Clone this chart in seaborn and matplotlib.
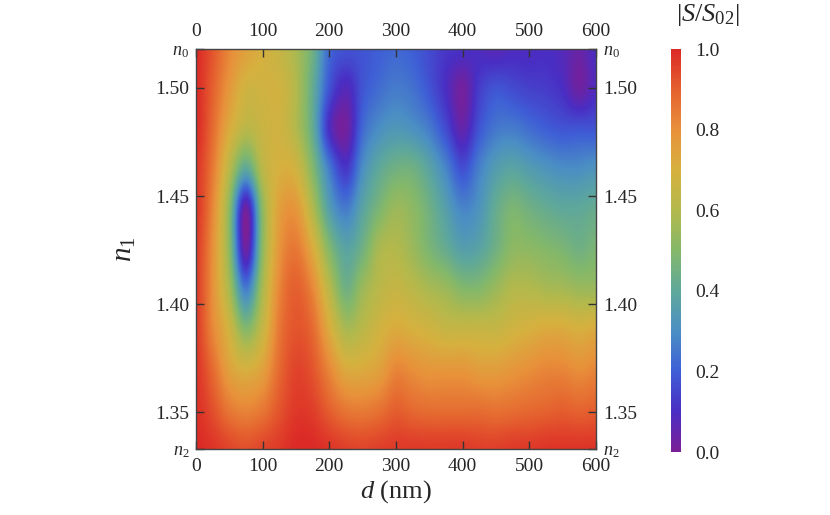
import numpy as np
import matplotlib
matplotlib.use("Agg")
import matplotlib.pyplot as plt
import seaborn as sns

# film thickness d (nm) and film index n1 sample grid
d_nm = [0, 25, 50, 75, 100, 125, 150, 175, 200, 225, 250, 275, 300,
        325, 350, 375, 400, 425, 450, 475, 500, 525, 550, 575, 600]
n1 = [1.333, 1.3515, 1.370, 1.3885, 1.407, 1.4255, 1.444,
      1.4625, 1.481, 1.4995, 1.518]

# |S/S02|, one list per n1 row (bottom -> top)
row_1333 = [1.00, 0.98, 0.95, 0.93, 0.95, 0.97, 1.00, 1.00, 0.98, 0.96, 0.95, 0.96, 0.97,
            0.97, 0.97, 0.97, 0.97, 0.96, 0.96, 0.97, 0.97, 0.98, 0.98, 0.98, 0.98]
row_1352 = [0.99, 0.93, 0.85, 0.82, 0.85, 0.92, 0.97, 0.96, 0.90, 0.85, 0.84, 0.86, 0.90,
            0.88, 0.87, 0.87, 0.87, 0.87, 0.86, 0.87, 0.88, 0.89, 0.90, 0.89, 0.90]
row_1370 = [0.98, 0.88, 0.75, 0.70, 0.75, 0.88, 0.95, 0.92, 0.82, 0.72, 0.72, 0.75, 0.82,
            0.80, 0.78, 0.78, 0.78, 0.76, 0.76, 0.78, 0.80, 0.82, 0.82, 0.80, 0.82]
row_1389 = [0.97, 0.82, 0.68, 0.50, 0.65, 0.85, 0.92, 0.88, 0.72, 0.58, 0.62, 0.68, 0.72,
            0.70, 0.68, 0.65, 0.65, 0.65, 0.65, 0.68, 0.70, 0.72, 0.72, 0.70, 0.72]
row_1407 = [0.97, 0.80, 0.58, 0.26, 0.58, 0.82, 0.90, 0.82, 0.62, 0.45, 0.55, 0.62, 0.65,
            0.62, 0.58, 0.55, 0.50, 0.50, 0.55, 0.60, 0.60, 0.58, 0.57, 0.55, 0.55]
row_1426 = [0.97, 0.80, 0.52, 0.03, 0.52, 0.78, 0.85, 0.72, 0.50, 0.38, 0.45, 0.58, 0.60,
            0.55, 0.48, 0.42, 0.36, 0.38, 0.45, 0.52, 0.52, 0.50, 0.48, 0.45, 0.48]
row_1444 = [0.98, 0.82, 0.52, 0.03, 0.52, 0.75, 0.78, 0.60, 0.36, 0.26, 0.38, 0.48, 0.55,
            0.52, 0.45, 0.36, 0.28, 0.32, 0.42, 0.48, 0.45, 0.42, 0.40, 0.40, 0.42]
row_1463 = [0.98, 0.85, 0.62, 0.40, 0.62, 0.70, 0.68, 0.50, 0.26, 0.12, 0.30, 0.40, 0.45,
            0.45, 0.38, 0.28, 0.17, 0.27, 0.35, 0.38, 0.35, 0.32, 0.30, 0.30, 0.32]
row_1481 = [1.00, 0.88, 0.72, 0.62, 0.66, 0.68, 0.60, 0.42, 0.10, 0.02, 0.22, 0.30, 0.33,
            0.31, 0.26, 0.16, 0.05, 0.18, 0.25, 0.26, 0.23, 0.20, 0.18, 0.18, 0.18]
row_1500 = [1.00, 0.90, 0.78, 0.68, 0.68, 0.68, 0.60, 0.42, 0.18, 0.08, 0.18, 0.23, 0.26,
            0.24, 0.18, 0.10, 0.02, 0.13, 0.18, 0.16, 0.14, 0.13, 0.10, 0.03, 0.09]
row_1518 = [1.00, 0.92, 0.82, 0.75, 0.70, 0.65, 0.58, 0.45, 0.22, 0.18, 0.18, 0.20, 0.22,
            0.20, 0.16, 0.12, 0.11, 0.09, 0.07, 0.09, 0.09, 0.10, 0.08, 0.04, 0.10]

x_ticks = [0, 100, 200, 300, 400, 500, 600]
y_ticks = [1.333, 1.35, 1.40, 1.45, 1.50, 1.518]
y_ticklabels = ["$n_2$", "1.35", "1.40", "1.45", "1.50", "$n_0$"]
cbar_ticks = [0.0, 0.2, 0.4, 0.6, 0.8, 1.0]

sns.set_style("ticks")
plt.rcParams["font.family"] = ["Liberation Serif", "DejaVu Serif"]
plt.rcParams["mathtext.fontset"] = "custom"
plt.rcParams["mathtext.rm"] = "Liberation Serif"
plt.rcParams["mathtext.it"] = "Liberation Serif:italic"

cmap = sns.blend_palette(["#7b1f96", "#4a2ec4", "#3f5fd6", "#4b8fc4", "#5fa89a",
                          "#84b86a", "#b3b94c", "#d6b13f", "#e8913b", "#e5612f",
                          "#dc2a27"], as_cmap=True)

Z = np.array([row_1333, row_1352, row_1370, row_1389, row_1407, row_1426,
              row_1444, row_1463, row_1481, row_1500, row_1518])
dx = d_nm[1] - d_nm[0]
dy = n1[1] - n1[0]

fig = plt.figure(figsize=(8.3, 5.15), dpi=100)
ax = fig.add_axes([0.2361, 0.128, 0.4819, 0.7767])
im = ax.imshow(Z, origin="lower", aspect="auto", cmap=cmap, vmin=0, vmax=1,
               interpolation="catrom",
               extent=[d_nm[0] - dx / 2, d_nm[-1] + dx / 2, n1[0] - dy / 2, n1[-1] + dy / 2])
ax.set_xlim(0, 600)
ax.set_ylim(1.333, 1.518)

ax.set_xticks(x_ticks)
ax.set_yticks(y_ticks)
ax.set_yticklabels(y_ticklabels)
ax.tick_params(direction="in", length=6, width=1, color="#333333", labelsize=14,
               top=True, right=True, labeltop=True, labelright=True, pad=5)
ax.tick_params(axis="x", pad=6.5)
for lbl in ax.get_yticklabels():
    if lbl.get_text().startswith("$"):
        lbl.set_fontsize(13)
for s in ax.spines.values():
    s.set_linewidth(1)
    s.set_color("#444444")

ax.set_xlabel("$d$ (nm)", fontsize=19, labelpad=2)
ax.set_ylabel("$n_1$", fontsize=21, labelpad=12)

cax = fig.add_axes([0.8084, 0.122, 0.0125, 0.7827])
cb = fig.colorbar(im, cax=cax, ticks=cbar_ticks)
cb.outline.set_visible(False)
cb.ax.tick_params(length=0, labelsize=14, pad=10)
cb.ax.set_yticklabels([f"{t:.1f}" for t in cbar_ticks])
fig.text(0.853, 0.97, r"$|S/S_{02}|$", fontsize=19, ha="center", va="center")

fig.savefig("out.png", dpi=100)
